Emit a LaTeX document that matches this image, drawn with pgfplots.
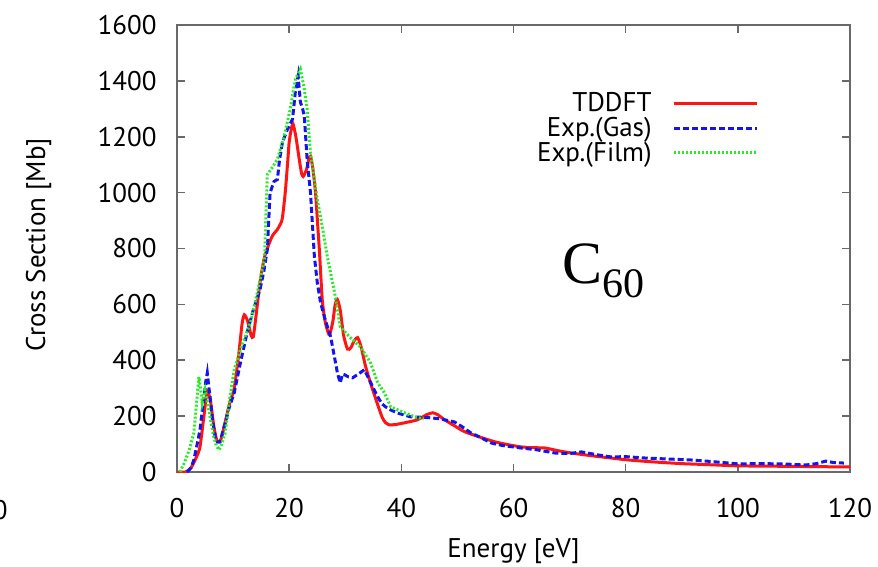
\documentclass[border=0pt]{standalone}
\usepackage{fontspec}
\setmainfont{PT Sans}
\newfontfamily\serifC{Liberation Serif}
\usepackage{pgfplots}
\pgfplotsset{compat=1.18}
\definecolor{tdred}{RGB}{255,20,20}
\definecolor{gasblue}{RGB}{20,20,235}
\definecolor{filmgreen}{RGB}{40,235,40}
\definecolor{axgray}{RGB}{105,105,105}
\begin{document}
\begin{tikzpicture}
\begin{axis}[
  name=ax,
  scale only axis,
  width=336.5pt, height=223.5pt,
  xmin=0, xmax=120, ymin=0, ymax=1600,
  xtick={0,20,...,120}, ytick={0,200,...,1600},
  tick align=inside, tick pos=both,
  major tick length=4pt,
  axis line style={axgray, line width=1pt},
  every tick/.style={axgray, line width=0.8pt},
  /pgf/number format/assume math mode=true,
  /pgf/number format/set thousands separator={},
  tick label style={font=\fontsize{13.5}{16}\selectfont, inner sep=0pt},
  yticklabel style={anchor=east, xshift=-10pt},
  xticklabel style={anchor=north, yshift=-13pt},
  xlabel={Energy [eV]},
  ylabel={Cross Section [Mb]},
  label style={font=\fontsize{13.5}{16}\selectfont},
  xlabel style={at={(rel axis cs:0.5,0)}, anchor=base, yshift=-42.5pt},
  ylabel style={at={(rel axis cs:-0.196,0.508)}, anchor=base},
  legend image code/.code={\draw[#1] (0pt,0pt) -- (41.5pt,0pt);},
  legend plot pos=right,
  legend cell align=right,
  legend style={draw=none, fill=none, at={(rel axis cs:0.874,0.861)}, anchor=north east,
    font=\fontsize{13.5}{16}\selectfont, column sep=10pt, row sep=0pt,
    nodes={inner sep=0.6pt}},
]
\addplot[tdred, line width=1.5pt, smooth, tension=0.4] coordinates {
(0,0) (1.5,0) (2.5,15) (3.5,55) (4.1,90) (4.8,200) (5.4,290) (6.0,250) (6.6,160)
(7.2,108) (7.8,115) (8.5,170) (9.3,240) (10.2,300) (11.0,420) (11.6,530) (12.0,563)
(12.6,540) (13.2,490) (13.6,484) (14.1,560) (14.8,678) (15.5,760) (16.1,800) (17.0,845)
(17.9,868) (18.5,890) (18.8,910) (19.3,1000) (19.7,1100) (20.0,1180) (20.4,1230)
(20.7,1245) (21.2,1200) (21.8,1119) (22.2,1070) (22.5,1058) (23.1,1083) (23.5,1120)
(23.8,1130) (24.2,1090) (24.7,1000) (25.1,880) (25.4,790) (25.9,617) (26.4,540)
(26.8,509) (27.2,491) (27.8,540) (28.2,600) (28.6,617) (29.1,580) (29.7,490) (30.4,440)
(31.0,445) (31.6,470) (32.2,481) (32.8,450) (33.6,380) (34.5,319) (35.8,240) (36.6,195)
(37.2,176) (37.8,169) (39.0,170) (41.0,178) (42.9,187) (44.5,205) (45.6,212) (46.5,205)
(47.7,187) (49.5,165) (51.3,144) (54.0,125) (56.7,108) (59.0,98) (61.3,90) (63.5,87)
(65.6,86) (68.0,76) (70.3,68) (74.0,58) (77.4,50) (80.5,43) (85,36) (90,30) (95,26)
(100,22) (105,21) (110,20) (115,19) (120,18)
};
\addlegendentry{TDDFT}
\addplot[gasblue, line width=1.5pt, dash pattern=on 3pt off 1.5pt] coordinates {
(1.8,0) (2.5,15) (3.0,43) (3.6,100) (4.1,151) (4.5,220) (4.8,258) (5.1,320) (5.4,355)
(5.7,300) (5.9,269) (6.3,190) (6.8,126) (7.2,108) (7.7,108) (8.1,140) (8.6,176)
(9.3,230) (10.2,283) (11.3,390) (12.5,499) (13.6,580) (14.8,653) (15.5,720) (16.1,796)
(16.6,1000) (17.3,1040) (17.9,1047) (18.3,1120) (18.8,1180) (19.7,1227) (20.6,1263)
(21.1,1360) (21.6,1417) (22.0,1324) (22.4,1300) (22.7,1274) (23.2,1119) (23.8,1000)
(24.5,771) (25.0,680) (25.6,606) (26.5,540) (27.4,484) (28.0,420) (28.6,355) (29.1,319)
(29.5,350) (29.9,348) (30.6,340) (31.3,337) (32.3,350) (33.4,366) (34.3,330) (35.0,300)
(35.8,269) (36.5,245) (37.2,233) (38.1,222) (39.5,210) (41.7,197) (43.5,196) (45.2,194)
(47.0,190) (49.5,179) (51.0,160) (52.4,140) (54.0,125) (56.0,104) (58.0,95) (61.3,86)
(64.0,80) (67.4,68) (70.0,66) (72.1,72) (75.1,61) (77.4,54) (80.0,55) (83.5,50)
(87.0,47) (91.7,43) (95,38) (100.1,29) (104,30) (108,29) (112.1,25) (114,30)
(115.7,39) (117,34) (118.9,32)
};
\addlegendentry{Exp.(Gas)}
\addplot[filmgreen, line width=1.5pt, dash pattern=on 1pt off 1pt] coordinates {
(0.5,0) (1.3,32) (2.2,80) (3.0,140) (3.5,250) (3.9,341) (4.2,300) (4.5,248) (5.0,294)
(5.5,240) (5.9,197) (6.5,130) (7.0,95) (7.5,79) (8.0,100) (8.6,140) (9.3,250)
(10.2,366) (11.5,450) (13.1,535) (14.3,640) (15.6,761) (16.1,1065) (17.0,1090)
(17.9,1119) (19.1,1202) (20.2,1299) (21.1,1406) (22.0,1442) (22.7,1370) (23.2,1299)
(23.8,1144) (25.0,976) (25.9,880) (26.8,771) (28.1,642) (29.1,520) (30.9,481)
(32.7,448) (34.5,391) (35.8,319) (37.0,283) (38.1,233) (40.6,212) (42.4,197) (44.0,190)
};
\addlegendentry{Exp.(Film)}
\node[anchor=base west, inner sep=0pt] at (axis cs:68.6,676)
  {\serifC\fontsize{30}{30}\selectfont C\raisebox{-7pt}{\fontsize{21}{21}\selectfont 60}};
\end{axis}
\node[anchor=east, inner sep=0pt, font=\fontsize{13.5}{16}\selectfont]
  at ([xshift=-84.5pt,yshift=-19pt]ax.south west) {0};
\pgfresetboundingbox
\useasboundingbox ([xshift=-88.5pt,yshift=-47.5pt]ax.south west) rectangle ([xshift=14pt,yshift=12.5pt]ax.north east);
\end{tikzpicture}
\end{document}
